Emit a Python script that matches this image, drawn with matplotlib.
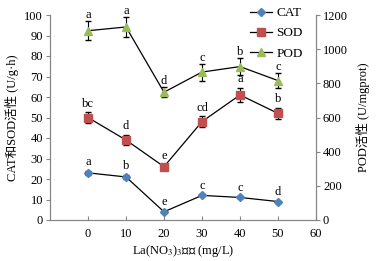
import numpy as np
import matplotlib
matplotlib.use('Agg')
import matplotlib.pyplot as plt
from matplotlib.lines import Line2D

plt.rcParams['font.family'] = ['Liberation Serif', 'Noto Sans CJK SC']
plt.rcParams['mathtext.fontset'] = 'stix'

conc = [0, 10, 20, 30, 40, 50]
cat = [23, 21, 4, 12, 11, 9]
cat_err = [1, 1, 0.5, 0.5, 0.5, 0.5]
sod = [50, 39, 26, 48, 61, 52]
sod_err = [2.5, 2.5, 1, 2.5, 3.5, 2.5]
pod = [1108, 1130, 748, 866, 898, 816]
pod_err = [55, 60, 30, 50, 50, 45]
cat_lab = ['a', 'b', 'e', 'c', 'c', 'd']
sod_lab = ['bc', 'd', 'e', 'cd', 'a', 'b']
pod_lab = ['a', 'a', 'd', 'c', 'b', 'c']

c_cat = '#4F81BD'
c_sod = '#C0504D'
c_pod = '#9BBB59'
spine_c = '#868686'

fig = plt.figure(figsize=(3.83, 2.61), dpi=100)
ax = fig.add_axes([50/383, 1-220/261, (316-50)/383, (220-15)/261])
ax2 = ax.twinx()

ax.errorbar(conc, cat, yerr=cat_err, color='black', lw=0.9, marker='D', ms=4,
            mfc=c_cat, mec=c_cat, ecolor='black', elinewidth=0.8, capsize=2)
ax.errorbar(conc, sod, yerr=sod_err, color='black', lw=0.9, marker='s', ms=6,
            mfc=c_sod, mec=c_sod, ecolor='black', elinewidth=0.8, capsize=2)
ax2.errorbar(conc, pod, yerr=pod_err, color='black', lw=0.9, marker='^', ms=6,
             mfc=c_pod, mec=c_pod, ecolor='black', elinewidth=0.8, capsize=2)

for x, y, e, t in zip(conc, cat, cat_err, cat_lab):
    ax.annotate(t, (x, y + e), xytext=(0, 2), textcoords='offset points', ha='center', va='bottom', fontsize=9)
for x, y, e, t in zip(conc, sod, sod_err, sod_lab):
    ax.annotate(t, (x, y + e), xytext=(0, 2), textcoords='offset points', ha='center', va='bottom', fontsize=9)
for x, y, e, t in zip(conc, pod, pod_err, pod_lab):
    ax2.annotate(t, (x, y + e), xytext=(0, 0), textcoords='offset points', ha='center', va='bottom', fontsize=9)

ax.set_xlim(-10, 60)
ax.set_xticks([0, 10, 20, 30, 40, 50, 60])
ax.set_ylim(0, 100)
ax.set_yticks(range(0, 101, 10))
ax2.set_ylim(0, 1200)
ax2.set_yticks(range(0, 1201, 200))

for a in (ax, ax2):
    a.spines['top'].set_visible(False)
    for s in ('left', 'right', 'bottom'):
        a.spines[s].set_color(spine_c)
ax.tick_params(axis='y', direction='out', length=3, color=spine_c, labelsize=9, pad=2)
ax.tick_params(axis='x', direction='in', length=3, color=spine_c, labelsize=9, pad=6)
ax2.tick_params(axis='y', direction='out', length=3, color=spine_c, labelsize=9, pad=2)

ax.set_xlabel('La(NO$_3$)$_3$浓度 (mg/L)', fontsize=9, labelpad=2)
ax.set_ylabel('CAT和SOD活性 (U/g·h)', fontsize=9, labelpad=4)
ax2.set_ylabel('POD活性 (U/mgprot)', fontsize=9, labelpad=6)

handles = [
    Line2D([], [], color='black', lw=0.9, marker='D', ms=4, mfc=c_cat, mec=c_cat),
    Line2D([], [], color='black', lw=0.9, marker='s', ms=6, mfc=c_sod, mec=c_sod),
    Line2D([], [], color='black', lw=0.9, marker='^', ms=6, mfc=c_pod, mec=c_pod),
]
fig.legend(handles, ['CAT', 'SOD', 'POD'], loc='upper left', bbox_to_anchor=(250/383, 1-7/261),
           frameon=False, fontsize=9.5, handlelength=1.7, handletextpad=0.3,
           labelspacing=0.6, borderaxespad=0, borderpad=0)

plt.savefig('out.png', dpi=100)
